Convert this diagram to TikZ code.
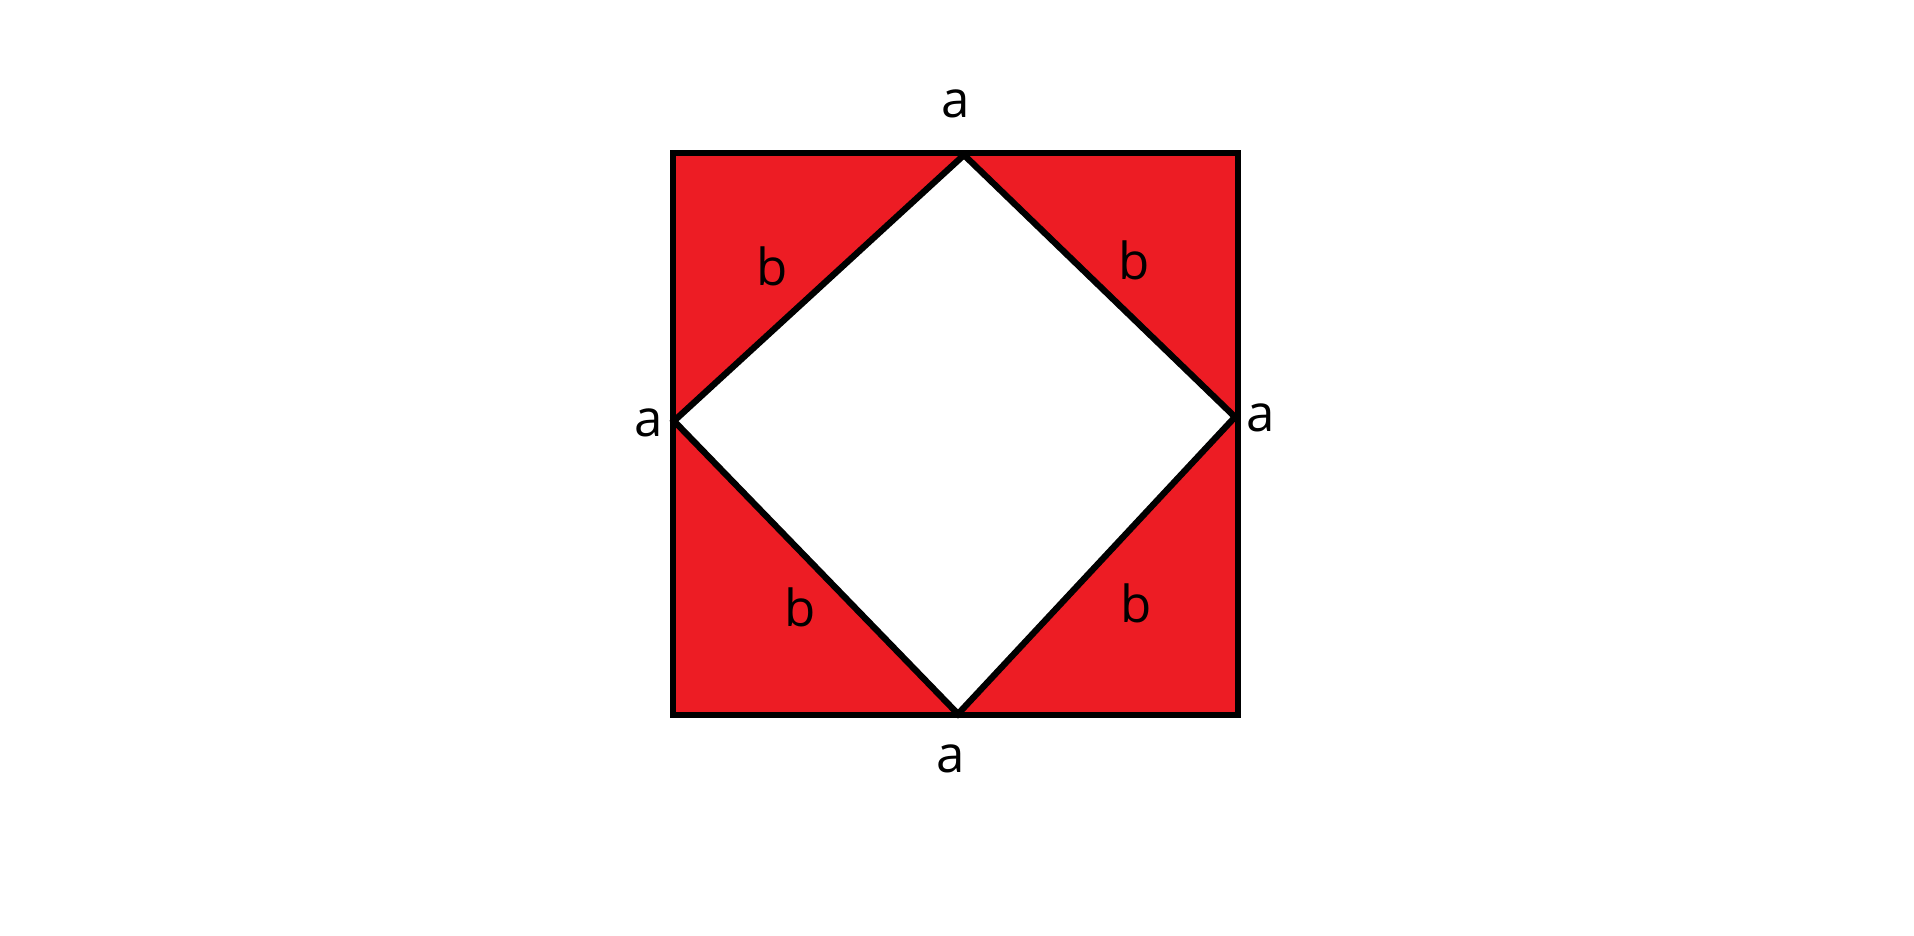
\documentclass[tikz,border=0pt]{standalone}
\usepackage{fontspec}
\setmainfont{Open Sans}
\definecolor{paintred}{HTML}{ED1C24}
\begin{document}
\begin{tikzpicture}[x=0.01cm,y=0.01cm,line join=miter,
	edge/.style={line width=1.8pt},
	lbl/.style={font=\fontsize{14.5}{17}\selectfont,inner sep=0pt}]
	\useasboundingbox (0,0) rectangle (1914,936);
	\path (673,221)coordinate(A) (1238,221)coordinate(B) (1238,783)coordinate(C) (673,783)coordinate(D)
	(964,781)coordinate(T) (674,515)coordinate(L) (1235,519)coordinate(R) (958,222)coordinate(U);
	\fill[paintred] (A)--(B)--(C)--(D)--cycle;
	\fill[white] (T)--(R)--(U)--(L)--cycle;
	\draw[edge] (T)--(R)--(U)--(L)--cycle;
	\draw[edge] (A)--(B)--(C)--(D)--cycle;
	\path (956,832)node[lbl](aT){a} (649,513)node[lbl](aL){a} (1261,518)node[lbl](aR){a} (951,177)node[lbl](aB){a}
	(772,670)node[lbl](bTL){b} (1134,676)node[lbl](bTR){b} (800,329)node[lbl](bBL){b} (1136,333)node[lbl](bBR){b};
\end{tikzpicture}
\end{document}
